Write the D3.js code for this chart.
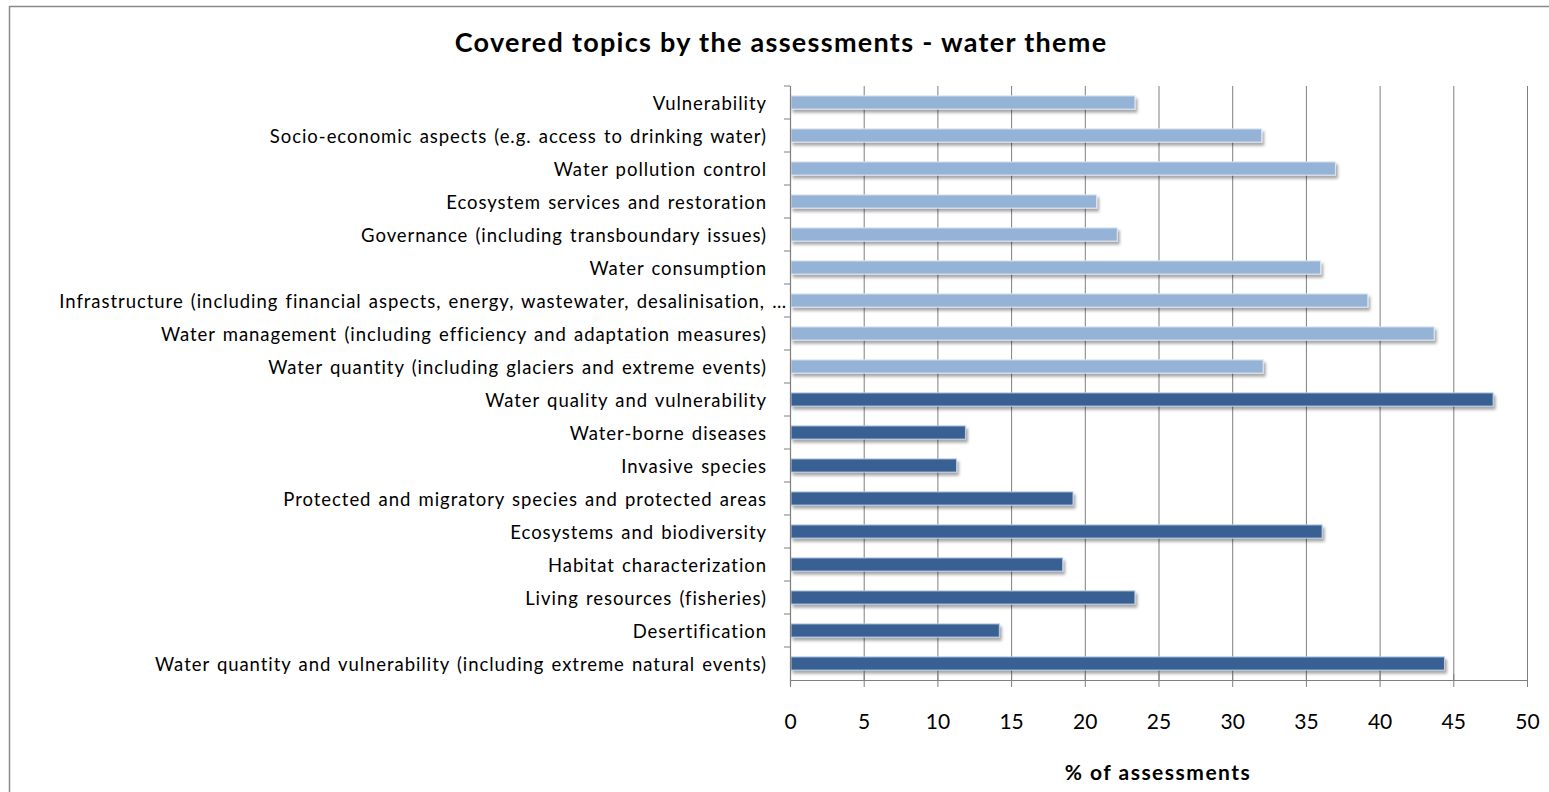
<!DOCTYPE html>
<html><head><meta charset="utf-8">
<script src="https://cdn.jsdelivr.net/npm/d3@7"></script>
<style>body{margin:0;background:#fff;} svg{display:block;}</style>
</head><body>
<svg id="c" width="1549" height="792"></svg>
<script>
const categories = [
  "Vulnerability",
  "Socio-economic aspects (e.g. access to drinking water)",
  "Water pollution control",
  "Ecosystem services and restoration",
  "Governance (including transboundary issues)",
  "Water consumption",
  "Infrastructure (including financial aspects, energy, wastewater, desalinisation, …",
  "Water management (including efficiency and adaptation measures)",
  "Water quantity (including glaciers and extreme events)",
  "Water quality and vulnerability",
  "Water-borne diseases",
  "Invasive species",
  "Protected and migratory species and protected areas",
  "Ecosystems and biodiversity",
  "Habitat characterization",
  "Living resources (fisheries)",
  "Desertification",
  "Water quantity and vulnerability (including extreme natural events)"
];
const values = [23.4, 32.0, 37.0, 20.8, 22.2, 36.0, 39.2, 43.7, 32.1, 47.7, 11.9, 11.3, 19.2, 36.1, 18.5, 23.4, 14.2, 44.4];
const groups = ["light","light","light","light","light","light","light","light","light","dark","dark","dark","dark","dark","dark","dark","dark","dark"];
const xTicks = [0,5,10,15,20,25,30,35,40,45,50];
const title = "Covered topics by the assessments - water theme";
const xTitle = "% of assessments";

const svg = d3.select("#c");
const font = "Lato, 'Open Sans', sans-serif";
const colors = {light:"#95B3D7", dark:"#376092"};

const defs = svg.append("defs");
const f = defs.append("filter").attr("id","sh").attr("x","-5%").attr("y","-50%").attr("width","115%").attr("height","250%");
f.append("feDropShadow").attr("dx",2).attr("dy",3).attr("stdDeviation",1.8).attr("flood-color","#000").attr("flood-opacity",0.35);

// outer border
svg.append("rect").attr("x",9.5).attr("y",6.5).attr("width",1600).attr("height",900)
  .attr("fill","none").attr("stroke","#8a8a8a").attr("stroke-width",1.5);

const x = d3.scaleLinear().domain([0,50]).range([790,1527]);
const y = d3.scaleBand().domain(categories).range([86,680]).paddingInner(0.6).paddingOuter(0.3);

// gridlines
svg.append("g").selectAll("line").data(xTicks.slice(1)).join("line")
  .attr("x1",d=>x(d)+0.5).attr("x2",d=>x(d)+0.5).attr("y1",86).attr("y2",680)
  .attr("stroke","#7f7f7f").attr("stroke-width",1);

// bars
svg.append("g").selectAll("rect").data(categories).join("rect")
  .attr("x",x(0)+1).attr("y",d=>y(d))
  .attr("width",(d,i)=>x(values[i])-x(0)-1).attr("height",y.bandwidth())
  .attr("fill",(d,i)=>colors[groups[i]])
  .attr("stroke",(d,i)=>groups[i]==="light"?"#dce6f2":"#b9cde5").attr("stroke-width",1)
  .attr("filter","url(#sh)");

// x axis
const xAxis = d3.axisBottom(x).tickValues(xTicks).tickSize(7).tickSizeOuter(0).tickPadding(27);
const gx = svg.append("g").attr("transform","translate(0,680)").call(xAxis);
gx.select(".domain").attr("stroke","#7f7f7f").attr("stroke-width",1.2);
gx.selectAll(".tick line").attr("stroke","#7f7f7f").attr("y1",-6);
gx.selectAll("text").attr("font-family",font).attr("font-size",21).attr("fill","#000");

// y axis
const yB = d3.scaleBand().domain(categories).range([86,680]);
const gy = svg.append("g").attr("transform","translate(790,0)");
gy.append("line").attr("x1",0.5).attr("x2",0.5).attr("y1",86).attr("y2",686).attr("stroke","#7f7f7f").attr("stroke-width",1.2);
gy.selectAll("line.t").data(categories).join("line").attr("class","t")
  .attr("x1",-6).attr("x2",0).attr("y1",d=>yB(d)).attr("y2",d=>yB(d)).attr("stroke","#7f7f7f");
gy.selectAll("text").data(categories).join("text")
  .attr("x",d=>d.startsWith("Infrastructure")?-3:-23).attr("y",d=>yB(d)+yB.bandwidth()/2+1)
  .attr("dy","0.35em").attr("text-anchor","end")
  .attr("font-family",font).attr("font-size",18.5).attr("fill","#000")
  .attr("letter-spacing","0.95px").attr("word-spacing","1.5px")
  .text(d=>d);

// title
svg.append("text").attr("x",781).attr("y",52).attr("text-anchor","middle")
  .attr("font-family",font).attr("font-weight","bold").attr("font-size",27)
  .attr("letter-spacing","1.3px").text(title);
svg.append("text").attr("x",1158).attr("y",780).attr("text-anchor","middle")
  .attr("font-family",font).attr("font-weight","bold").attr("font-size",21)
  .attr("letter-spacing","1.5px").text(xTitle);
</script>
</body></html>
